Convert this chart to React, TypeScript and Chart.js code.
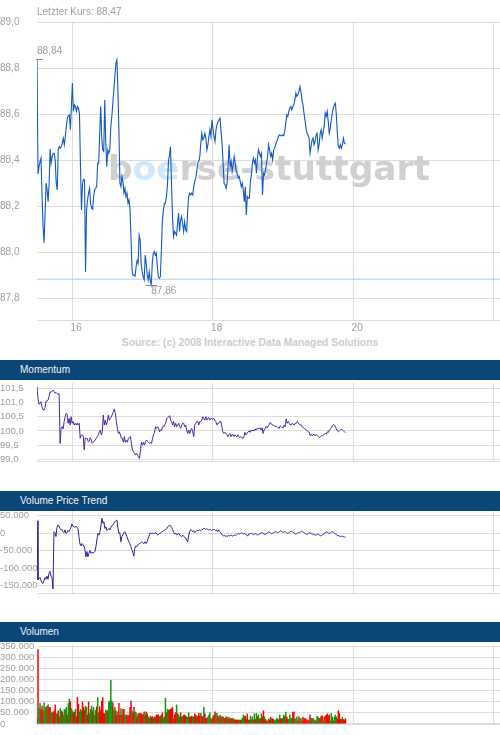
import React, { useEffect, useRef } from "react";
import { Chart, registerables } from "chart.js";

Chart.register(...registerables);

// ---------------- data ----------------
const DAY_TICKS = [16, 18, 20, 22];
const FIRST_DAY = 15.5;
const LAST_DAY = 19.89;
const X_MIN = 15.5;
const X_MAX = 22.09;

const LAST_PRICE = 88.47;
const REF_PRICE = 87.883;
const PRICE_MIN = 87.706;
const PRICE_MAX = 89.0;
const PRICE_TICKS = [87.8, 88.0, 88.2, 88.4, 88.6, 88.8, 89.0];
const PRICE = [
  88.84, 88.340, 88.372, 88.394, 88.409, 88.242, 88.112, 88.042, 88.170, 88.300,
  88.271, 88.220, 88.300, 88.448, 88.387, 88.416, 88.430, 88.430, 88.401, 88.300,
  88.271, 88.445, 88.459, 88.452, 88.459, 88.474, 88.496, 88.467, 88.503, 88.546,
  88.583, 88.593, 88.597, 88.532, 88.633, 88.735,
  88.612, 88.640, 88.633, 88.612, 88.633, 88.626, 88.604, 88.372, 88.184, 88.300, 88.317, 88.314, 87.916,
  88.184, 88.228, 88.257, 88.278, 88.213, 88.191, 88.187, 88.242, 88.271, 88.278, 88.285, 88.387, 88.387,
  88.517, 88.633, 88.503, 88.445, 88.438, 88.662, 88.474,
  88.372, 88.445, 88.430, 88.445, 88.546, 88.590, 88.648, 88.706, 88.764, 88.822, 88.836, 88.706,
  88.532, 88.300, 88.285, 88.329, 88.307, 88.257, 88.278, 88.242, 88.257, 88.213, 88.228,
  88.184, 88.054, 87.923, 87.901, 87.901, 87.897, 87.938, 87.964, 87.952, 88.075,
  88.054, 87.952, 87.916, 87.894, 87.880, 87.988, 87.952, 87.901, 87.880, 87.916,
  87.875, 87.860, 87.952, 87.996, 88.003, 87.988, 87.996, 87.938, 87.894, 87.887,
  87.894, 88.010, 88.140, 88.184, 88.213, 88.213, 88.242, 88.293, 88.394, 88.423,
  88.459, 88.300, 88.155, 88.068, 88.090, 88.083, 88.075, 88.126, 88.170, 88.090,
  88.140, 88.155, 88.126, 88.090, 88.133, 88.097, 88.090, 88.184, 88.242, 88.257,
  88.249, 88.257, 88.249, 88.285, 88.307, 88.322, 88.351, 88.387, 88.394, 88.416,
  88.474, 88.517, 88.488, 88.496, 88.517, 88.496, 88.445, 88.467, 88.503, 88.532,
  88.503, 88.575, 88.539, 88.503, 88.481, 88.532, 88.554, 88.568, 88.575, 88.583,
  88.525, 88.474, 88.387, 88.300, 88.293, 88.278, 88.300, 88.380,
  88.467, 88.372, 88.394, 88.351, 88.380, 88.416, 88.387, 88.351, 88.343, 88.322,
  88.329, 88.307, 88.285, 88.300, 88.271, 88.220, 88.285, 88.162, 88.242, 88.235,
  88.235, 88.307, 88.336, 88.387, 88.409, 88.387, 88.401, 88.343, 88.409, 88.445,
  88.430, 88.416, 88.430, 88.249, 88.343, 88.336, 88.358, 88.387, 88.416, 88.467,
  88.445, 88.416, 88.430, 88.401, 88.445, 88.452, 88.467, 88.481, 88.491, 88.506,
  88.510, 88.506, 88.506, 88.510, 88.506, 88.525, 88.561, 88.597, 88.590, 88.612,
  88.626, 88.633, 88.619, 88.633, 88.640, 88.662, 88.691, 88.677, 88.684, 88.698,
  88.720, 88.698, 88.662, 88.640, 88.604, 88.575, 88.539, 88.517, 88.510, 88.496,
  88.430, 88.459, 88.488, 88.496, 88.467, 88.481, 88.510, 88.517, 88.445, 88.467,
  88.517, 88.532, 88.496, 88.525, 88.546, 88.604, 88.590, 88.612, 88.568, 88.517,
  88.539, 88.575, 88.604, 88.626, 88.640, 88.648, 88.597, 88.517, 88.459, 88.452,
  88.467, 88.452, 88.467, 88.496, 88.474, 88.47,
];

const MOMENTUM_MIN = 98.94;
const MOMENTUM_MAX = 101.69;
const MOMENTUM_TICKS = [99.0, 99.5, 100.0, 100.5, 101.0, 101.5];
const MOMENTUM = [
  101.56, 101.15, 100.94, 100.97, 101.03, 100.85, 100.74, 100.74, 100.82, 101.05,
  101.05, 101.09, 101.21, 101.38, 101.36, 101.40, 101.44, 101.38, 101.33, 101.36,
  101.32, 101.29, 101.32, 99.56,
  100.09, 100.15, 100.07, 100.33, 100.50, 100.62, 100.58, 100.27, 100.44, 100.21, 100.50,
  100.27, 100.33, 100.21, 100.27, 100.21, 100.27, 100.21, 100.27, 99.74, 99.86,
  99.86, 99.83, 99.33, 99.74, 99.74, 99.74, 99.62, 99.64, 99.76, 99.68,
  99.56, 99.60, 99.64, 99.68, 99.74, 99.80, 99.86, 99.97, 100.03, 99.86,
  99.97, 100.56, 100.21, 100.38, 100.21, 100.33, 100.56, 100.38, 100.44, 100.50,
  100.58, 100.68, 100.77, 100.62, 100.33, 100.09, 99.91, 99.97, 99.86, 99.74,
  99.74, 99.60, 99.80, 99.60, 99.68, 99.60, 99.74, 99.76, 99.80, 99.56,
  99.33, 99.27, 99.21, 99.15, 99.21, 99.15, 99.09, 99.03, 99.33, 99.60,
  99.50, 99.60, 99.50, 99.62, 99.68, 99.62, 99.60, 99.56, 99.60, 99.56,
  99.74, 99.86, 99.95, 100.15, 100.09, 100.15, 100.09, 99.97, 100.03, 100.03,
  100.15, 100.15, 100.21, 100.27, 100.42, 100.47, 100.50, 100.54, 100.38, 100.33,
  100.21, 100.33, 100.15, 100.27, 100.15, 100.21, 100.27, 100.15, 100.09, 100.21,
  100.27, 100.27, 100.15, 100.21, 100.03, 99.91, 100.03, 99.91, 100.03, 100.09,
  99.97, 99.80, 100.21, 100.27, 100.33, 100.33, 100.21, 100.33, 100.33, 100.38,
  100.50, 100.44, 100.38, 100.50, 100.38, 100.44, 100.47, 100.38, 100.44, 100.44,
  100.42, 100.44, 100.38, 100.33, 100.21, 100.27, 100.27, 100.33, 100.33, 100.15,
  99.97, 99.91, 99.95, 99.91, 99.88, 99.80, 99.86, 99.91, 99.80, 99.86,
  99.88, 99.80, 99.86, 99.83, 99.80, 99.86, 99.80, 99.76, 99.80, 99.76,
  99.74, 99.80, 99.95, 99.86, 99.91, 99.97,
  100.00, 99.95, 100.03, 100.00, 100.03, 100.00, 100.07, 100.03, 100.09, 100.07,
  100.09, 100.11, 100.03, 100.11, 99.91, 100.03, 100.07, 100.15, 100.11, 100.18,
  100.21, 100.30, 100.27, 100.21, 100.21, 100.18, 100.15, 100.18, 100.15, 100.11,
  100.09, 100.18, 100.15, 100.11, 100.11, 100.21, 100.15, 100.42, 100.27, 100.33,
  100.27, 100.21, 100.21, 100.27, 100.23, 100.21, 100.27, 100.27, 100.33, 100.30,
  100.23, 100.21, 100.21, 100.15, 100.11, 100.09, 100.07, 100.03, 100.00, 99.97,
  99.95, 99.83, 99.88, 99.83, 99.88, 99.86, 99.83, 99.88, 99.83, 99.80,
  99.76, 99.80, 99.83, 99.83, 99.86, 99.88, 99.91, 99.88, 99.97, 99.95,
  100.03, 100.07, 100.11, 100.18, 100.23, 100.21, 100.15, 100.07, 100.00, 99.97,
  100.00, 100.03, 100.07, 100.03, 100.00, 99.97, 99.95,
];

const VPT_MIN = -171400;
const VPT_MAX = 62860;
const VPT_TICKS = [-150000, -100000, -50000, 0, 50000];
const VPT = [
  35000, -134000, -130000, -127000, -136000, -142000, -144000, -136000, -127000, -132000,
  -123000, -132000, -115000, -110000, -123000, -127000, -160000,
  4000, 1000, -10000, 16000, 23000, 20000, 13000, 9000, 10000, 4000,
  1000, 9000, -1000, 1000, 7000, 4000, 10000, 16000, 26000, 20000,
  18000, 16000, 20000, 16000, 13000, -10000, -31000, -37000, -30000, -34000,
  -37000, -47000, -68000, -53000, -68000, -58000, -50000, -58000, -56000, -56000,
  -56000, -53000, -39000, -20000, -1000, -6000, 1000, 20000, 42000, 28000,
  32000, 13000, 18000, 7000, 10000, 13000, 9000, 16000, 20000, 23000,
  28000, 32000, 35000, 37000, 16000, -1000, 1000, -25000, -10000, -6000,
  1000, 4000, -3000, -10000, -18000, -25000, -31000, -39000, -47000, -56000,
  -66000, -44000, -37000, -39000, -34000, -31000, -30000, -28000, -25000, -28000,
  -31000, -25000, -30000, -28000, -18000, -10000, -1000, -1000, -1000, -1000,
  -1000, -1000, 1000, -3000, -6000, -3000, -1000, 1000, 3000, 5000,
  7000, 9000, 10000, 13000, 18000, 20000, 23000, 20000, 16000, 9000,
  1000, -3000, -1000, -6000, -3000, -1000, -6000, -9000, -10000, -6000,
  -10000, -12000, -15000, -20000, -25000, -6000, 4000, 10000, 7000, 4000,
  7000, 1000, 4000, 7000, 7000, 7000, 9000, 7000, 9000, 10000,
  13000, 13000, 10000, 13000, 10000, 9000, 10000, 9000, 7000, 10000,
  9000, 10000, 7000, 9000, 4000, 9000, 4000, 1000, -3000, -6000,
  -9000, -7000, -9000, -9000, -9000, -7000, -9000, -6000, -7000, -9000,
  -7000, -6000, -7000, -5000, -3000, -1000, -3000, -1000, 1000, -1000,
  -3000, -1000, -3000, -6000, -9000, -3000,
  -3000, -2000, -1000, -3000, -5000, -3000, -2000, -4000, -6000, -4000,
  -3000, -1000, 1000, 0, -2000, -4000, -3000, -1000, 1000, 3000,
  2000, 0, -2000, -1000, 1000, 2000, 4000, 3000, 1000, 2000,
  4000, 6000, 5000, 3000, 2000, 4000, 3000, 1000, -1000, 0,
  2000, 4000, 5000, 3000, 1000, -1000, -3000, -2000, 0, 2000,
  1000, 3000, 5000, 4000, 2000, 0, -2000, -4000, -3000, -1000,
  1000, 0, -2000, -3000, -5000, -4000, -6000, -5000, -3000, -4000,
  -6000, -8000, -7000, -5000, -3000, -1000, 1000, 3000, 2000, 0,
  -1000, 1000, 3000, 4000, 2000, 0, -2000, -5000, -8000, -7000,
  -9000, -10000, -9000, -11000, -10000, -12000, -11000,
];

const VOLUME_MAX = 354500;
const VOLUME_TICKS = [0, 50000, 100000, 150000, 200000, 250000, 300000, 350000];
const VOLUME = [
  27000, 335000, 71000, 94000, 67000, 82000, 61000, 97000, 76000, 76000,
  82000, 87000, 76000, 76000, 49000, 56000, 52000, 61000, 87000, 47000,
  47000, 61000, 34000, 71000, 61000, 56000, 42000, 67000, 64000, 76000,
  42000, 94000, 113000, 101000, 71000, 61000, 52000, 56000, 67000, 34000,
  121000, 90000, 56000, 67000, 61000, 101000, 76000, 64000, 82000, 76000,
  42000, 101000, 49000, 67000, 82000, 61000, 76000, 42000, 64000, 79000,
  120000, 52000, 79000, 61000, 104000, 120000, 49000, 47000, 64000, 61000,
  61000, 101000, 104000, 198000, 104000, 96000, 64000, 76000, 61000, 42000,
  56000, 94000, 42000, 71000, 42000, 67000, 67000, 42000, 42000, 42000,
  34000, 42000, 76000, 104000, 61000, 52000, 76000, 56000, 52000, 34000,
  47000, 49000, 49000, 47000, 42000, 47000, 56000, 42000, 56000, 47000,
  34000, 27000, 37000, 32000, 34000, 27000, 34000, 32000, 42000, 42000,
  42000, 34000, 37000, 42000, 52000, 27000, 34000, 117000, 52000, 67000,
  64000, 64000, 67000, 71000, 76000, 25000, 42000, 52000, 87000, 49000,
  42000, 32000, 52000, 34000, 34000, 42000, 42000, 37000, 34000, 32000,
  52000, 32000, 34000, 37000, 34000, 32000, 47000, 42000, 34000, 37000,
  49000, 37000, 49000, 37000, 34000, 76000, 47000, 27000, 27000, 32000,
  42000, 52000, 25000, 25000, 34000, 42000, 56000, 49000, 49000, 37000,
  34000, 42000, 34000, 32000, 34000, 27000, 27000, 34000, 32000, 25000,
  32000, 25000, 27000, 27000, 25000, 22000, 19000, 19000, 19000, 19000,
  19000, 19000, 19000, 27000, 42000, 34000, 37000, 22000, 47000, 19000,
  19000, 37000, 22000, 34000, 19000, 47000, 22000, 49000, 34000, 42000,
  25000, 25000, 47000, 34000, 61000, 34000, 22000, 15000, 15000, 25000,
  19000, 32000, 25000, 25000, 22000, 15000, 19000, 27000, 25000, 19000,
  42000, 25000, 25000, 27000, 42000, 34000, 55000, 32000, 22000, 22000,
  42000, 27000, 27000, 55000, 55000, 25000, 25000, 34000, 15000, 34000,
  25000, 27000, 15000, 32000, 25000, 27000, 22000, 19000, 19000, 15000,
  42000, 27000, 25000, 27000, 19000, 19000, 15000, 37000, 32000, 27000,
  27000, 37000, 37000, 15000, 32000, 37000, 42000, 47000, 37000, 42000,
  15000, 49000, 32000, 15000, 32000, 42000, 34000, 25000, 61000, 49000,
  22000, 22000, 32000, 22000, 19000, 25000,
];
// g = Kurs gestiegen (grün), r = Kurs gefallen (rot)
const VOLUME_SIDE =
  "grggrrrggg" + "rgrrggrrrg" + "grrggrgggg" + "rggrggrrgr" + "rrgggrrrgg" +
  "rrgggrgggr" + "ggrrrrrrgg" + "rggggrggrr" + "grrgrrrggr" + "rrrrgrrggr" +
  "rgrrrrggrr" + "gggrrgrgrr" + "rgrgrgggrg" + "grrrrgrrgr" + "ggrgrgrrgg" +
  "grrrggrrgr" + "rrgrrgrrrg" + "ggrgrrrggr" + "rgrgrgrrgr" + "grrgrgrrrr" +
  "ggrgggrrrg" +
  "rgggrgrgrg" + "grgrrgrrgg" + "rrgrrggggr" + "grrggrgrrg" + "gggrrgggrr" +
  "ggrrrrrrrg" + "rrggggrggr" + "grrgrgrrrr" + "gggrgggrrr" + "rrgrrr";

// ---------------- styling ----------------
const SANS = '"Liberation Sans", Arial, Helvetica, sans-serif';
const GRID = "#dddddd";
const LABEL = "#a0a0a0";
const HEADER_BG = "#0a4678";
const PRICE_COLOR = "#1259c3";
const REF_COLOR = "#a8cff2";
const MOMENTUM_COLOR = "#4a24a8";
const VPT_COLOR = "#3a1a9c";
const UP = "#0b990b";
const DOWN = "#ff0000";

function onDays(values: number[]) {
  const n = values.length;
  return values.map((y, i) => ({ x: FIRST_DAY + ((LAST_DAY - FIRST_DAY) * i) / (n - 1), y }));
}

function fmtDec(v: number, d: number) {
  return v.toFixed(d).replace(".", ",");
}
function fmtThousands(v: number) {
  const s = Math.round(Math.abs(v)).toString().replace(/\B(?=(\d{3})+(?!\d))/g, ".");
  return (v < 0 ? "-" : "") + s;
}

function xScale(showLabels: boolean, borderWidth = 1): any {
  return {
    type: "linear",
    min: X_MIN,
    max: X_MAX,
    offset: false,
    afterBuildTicks: (s: any) => {
      s.ticks = DAY_TICKS.map((v) => ({ value: v }));
    },
    afterFit: (s: any) => {
      s.height = showLabels ? 15 : 0;
    },
    grid: { color: GRID, drawTicks: false, offset: false, lineWidth: 1 },
    border: { display: true, color: GRID, width: borderWidth },
    ticks: {
      display: showLabels,
      autoSkip: false,
      maxRotation: 0,
      padding: 2,
      labelOffset: 4,
      color: LABEL,
      font: { family: SANS, size: 10 },
      callback: (v: number) => (v === 22 ? "" : String(v)),
    },
  };
}

function yScale(min: number, max: number, ticks: number[], fmt: (v: number) => string, size: number): any {
  return {
    type: "linear",
    min,
    max,
    afterBuildTicks: (s: any) => {
      s.ticks = ticks.map((v) => ({ value: v }));
    },
    afterFit: (s: any) => {
      s.width = 37;
    },
    grid: { color: GRID, drawTicks: false, lineWidth: 1 },
    border: { display: false },
    ticks: {
      autoSkip: false,
      crossAlign: "far",
      padding: 0,
      color: LABEL,
      font: { family: SANS, size },
      callback: (v: number) => fmt(v),
    },
  };
}

function baseOptions(padTop: number, padBottom: number): any {
  return {
    animation: false,
    responsive: false,
    maintainAspectRatio: false,
    devicePixelRatio: 1,
    layout: { padding: { top: padTop, bottom: padBottom, left: 0, right: 0 } },
    plugins: { legend: { display: false }, tooltip: { enabled: false }, title: { display: false } },
    events: [],
  };
}

const watermarkPlugin = {
  id: "watermark",
  beforeDatasetsDraw(chart: any) {
    const ctx = chart.ctx;
    ctx.save();
    const fam = '"DejaVu Sans", Verdana, sans-serif';
    let size = 34;
    ctx.font = `bold ${size}px ${fam}`;
    const full = ctx.measureText("boerse-stuttgart").width;
    size = (size * 322) / full;
    ctx.font = `bold ${size}px ${fam}`;
    ctx.textAlign = "left";
    ctx.textBaseline = "alphabetic";
    const parts: [string, string][] = [
      ["b", "#d0d0d0"],
      ["oe", "#cfe8fb"],
      ["rse-stuttgart", "#d0d0d0"],
    ];
    let x = 108;
    for (const [t, c] of parts) {
      ctx.fillStyle = c;
      ctx.fillText(t, x, 180);
      x += ctx.measureText(t).width;
    }
    ctx.restore();
  },
};

const extremaPlugin = {
  id: "extrema",
  afterDatasetsDraw(chart: any) {
    const pts = chart.data.datasets[0].data as { x: number; y: number }[];
    let hi = 0;
    let lo = 0;
    pts.forEach((p, i) => {
      if (p.y > pts[hi].y) hi = i;
      if (p.y < pts[lo].y) lo = i;
    });
    const xs = chart.scales.x;
    const ys = chart.scales.y;
    const ctx = chart.ctx;
    ctx.save();
    ctx.strokeStyle = "#8a8a8a";
    ctx.lineWidth = 1;
    ctx.fillStyle = LABEL;
    ctx.font = `10px ${SANS}`;
    ctx.textAlign = "left";
    ctx.textBaseline = "middle";
    const mark = (i: number, dy: number) => {
      const px = xs.getPixelForValue(pts[i].x);
      const py = Math.round(ys.getPixelForValue(pts[i].y)) + 0.5;
      ctx.beginPath();
      ctx.moveTo(Math.max(px - 6, chart.chartArea.left - 1), py);
      ctx.lineTo(px + 6, py);
      ctx.stroke();
      ctx.fillText(fmtDec(pts[i].y, 2), px, py + dy);
    };
    mark(hi, -8);
    mark(lo, 6);
    ctx.restore();
  },
};

function mainConfig(): any {
  return {
    type: "line",
    data: {
      datasets: [
        {
          data: onDays(PRICE),
          borderColor: PRICE_COLOR,
          borderWidth: 1.1,
          pointRadius: 0,
          tension: 0,
        },
        {
          data: [
            { x: X_MIN, y: REF_PRICE },
            { x: X_MAX, y: REF_PRICE },
          ],
          borderColor: REF_COLOR,
          borderWidth: 1,
          pointRadius: 0,
        },
      ],
    },
    options: {
      ...baseOptions(22, 0),
      scales: {
        x: xScale(true),
        y: yScale(PRICE_MIN, PRICE_MAX, PRICE_TICKS, (v) => fmtDec(v, 1), 10),
      },
    },
    plugins: [watermarkPlugin, extremaPlugin],
  };
}

function lineConfig(values: number[], color: string, min: number, max: number, ticks: number[], fmt: (v: number) => string): any {
  return {
    type: "line",
    data: {
      datasets: [{ data: onDays(values), borderColor: color, borderWidth: 1, pointRadius: 0, tension: 0 }],
    },
    options: {
      ...baseOptions(9, 7),
      scales: {
        x: xScale(false),
        y: yScale(min, max, ticks, fmt, 9.5),
      },
    },
  };
}

function volumeConfig(): any {
  return {
    type: "bar",
    data: {
      datasets: [
        {
          data: onDays(VOLUME),
          backgroundColor: VOLUME_SIDE.split("").map((s) => (s === "g" ? UP : DOWN)),
          borderWidth: 0,
          barThickness: 1.5,
          inflateAmount: 0,
        },
      ],
    },
    options: {
      ...baseOptions(9, 7),
      scales: {
        x: xScale(false, 2),
        y: yScale(0, VOLUME_MAX, VOLUME_TICKS, fmtThousands, 9.5),
      },
    },
  };
}

function ChartBox({ top, height, config }: { top: number; height: number; config: () => any }) {
  const ref = useRef<HTMLCanvasElement>(null);
  useEffect(() => {
    const chart = new Chart(ref.current as HTMLCanvasElement, config());
    return () => chart.destroy();
  }, []);
  return (
    <canvas
      ref={ref}
      width={500}
      height={height}
      style={{ position: "absolute", left: 0, top, width: 500, height, display: "block" }}
    />
  );
}

function Header({ top, height, text }: { top: number; height: number; text: string }) {
  return (
    <div
      style={{
        position: "absolute",
        left: 0,
        top,
        width: 500,
        height,
        background: HEADER_BG,
        color: "#f2f2f2",
        font: `10px ${SANS}`,
        lineHeight: `${height}px`,
        paddingLeft: 20,
        boxSizing: "border-box",
      }}
    >
      {text}
    </div>
  );
}

export default function App() {
  return (
    <div
      style={{
        position: "absolute",
        left: 0,
        top: 0,
        width: 500,
        height: 735,
        background: "#ffffff",
        overflow: "hidden",
        fontFamily: SANS,
      }}
    >
      <ChartBox top={0} height={335} config={mainConfig} />
      <div
        style={{
          position: "absolute",
          left: 37,
          top: 6,
          font: `10px ${SANS}`,
          lineHeight: "12px",
          color: LABEL,
          whiteSpace: "nowrap",
        }}
      >
        {"Letzter Kurs: " + fmtDec(LAST_PRICE, 2)}
      </div>
      <div
        style={{
          position: "absolute",
          left: 0,
          top: 337,
          width: 500,
          textAlign: "center",
          font: `bold 10.3px ${SANS}`,
          lineHeight: "12px",
          color: "#cdcdcd",
          whiteSpace: "nowrap",
        }}
      >
        Source: (c) 2008 Interactive Data Managed Solutions
      </div>

      <ChartBox
        top={374}
        height={94}
        config={() => lineConfig(MOMENTUM, MOMENTUM_COLOR, MOMENTUM_MIN, MOMENTUM_MAX, MOMENTUM_TICKS, (v) => fmtDec(v, 1))}
      />
      <Header top={360} height={20} text="Momentum" />

      <ChartBox
        top={502}
        height={98}
        config={() => lineConfig(VPT, VPT_COLOR, VPT_MIN, VPT_MAX, VPT_TICKS, fmtThousands)}
      />
      <Header top={491} height={20} text="Volume Price Trend" />

      <ChartBox top={636} height={95} config={volumeConfig} />
      <Header top={622} height={20} text="Volumen" />
    </div>
  );
}
